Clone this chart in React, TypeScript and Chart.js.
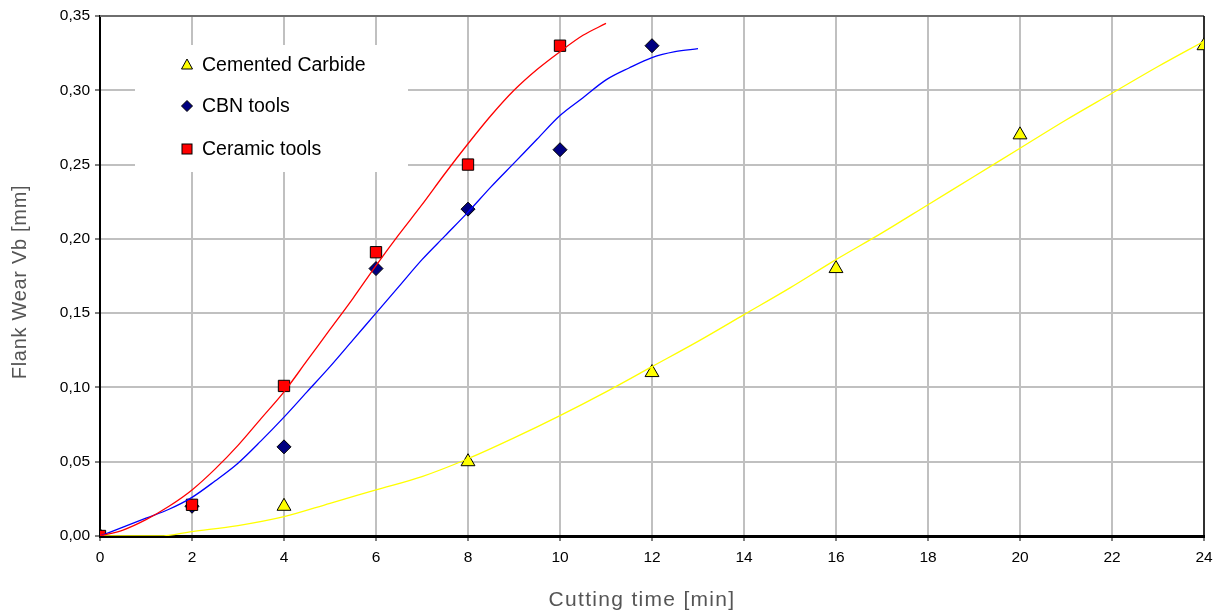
import { useEffect, useRef } from "react";
import { Chart, registerables } from "chart.js";

Chart.register(...registerables);

// Measured points
const carbideTime = [0, 4, 8, 12, 16, 20, 24];
const carbideWear = [0, 0.02, 0.05, 0.11, 0.18, 0.27, 0.33];
const cbnTime = [0, 2, 4, 6, 8, 10, 12];
const cbnWear = [0, 0.02, 0.06, 0.18, 0.22, 0.26, 0.33];
const ceramicTime = [0, 2, 4, 6, 8, 10];
const ceramicWear = [0, 0.021, 0.101, 0.191, 0.25, 0.33];

// Trend curves
const ceramicFitTime = [0, 0.5, 1, 1.5, 2, 2.5, 3, 3.5, 4, 4.5, 5, 5.5, 6, 6.5, 7, 7.5, 8, 8.5, 9, 9.5, 10, 10.5, 11];
const ceramicFitWear = [0, 0.004, 0.011, 0.02, 0.031, 0.045, 0.061, 0.079, 0.097, 0.118, 0.139, 0.16, 0.182, 0.203, 0.223, 0.244, 0.264, 0.283, 0.3, 0.314, 0.326, 0.337, 0.345];
const cbnFitTime = [0, 0.5, 1, 1.5, 2, 2.5, 3, 3.5, 4, 4.5, 5, 5.5, 6, 6.5, 7, 7.5, 8, 8.5, 9, 9.5, 10, 10.5, 11, 11.5, 12, 12.5, 13];
const cbnFitWear = [0, 0.006, 0.012, 0.018, 0.026, 0.037, 0.049, 0.064, 0.08, 0.097, 0.114, 0.132, 0.15, 0.168, 0.186, 0.202, 0.218, 0.235, 0.251, 0.267, 0.283, 0.295, 0.307, 0.315, 0.322, 0.326, 0.328];
const carbideFitTime = [0, 1.3, 2, 3, 4, 5, 6, 7, 8, 9, 10, 11, 12, 13, 14, 15, 16, 17, 18, 19, 20, 21, 22, 23, 24];
const carbideFitWear = [0, 0, 0.003, 0.007, 0.013, 0.022, 0.031, 0.04, 0.052, 0.066, 0.081, 0.097, 0.114, 0.131, 0.149, 0.167, 0.186, 0.204, 0.223, 0.242, 0.261, 0.28, 0.298, 0.316, 0.333];

const legendLabels = ["Cemented Carbide", "CBN tools", "Ceramic tools"];
const xTitle = "Cutting time [min]";
const yTitle = "Flank Wear Vb [mm]";

const zip = (xs: number[], ys: number[]) => xs.map((x, i) => ({ x, y: ys[i] }));

const FONT = "'Liberation Sans', Arial, sans-serif";

const framePlugin = {
  id: "frame",
  beforeDatasetsDraw(chart: any) {
    const { ctx, chartArea } = chart;
    const { left, right, top, bottom } = chartArea;
    ctx.save();
    // top border
    ctx.strokeStyle = "#6e6e6e";
    ctx.lineWidth = 2;
    ctx.beginPath();
    ctx.moveTo(left, top);
    ctx.lineTo(right, top);
    ctx.stroke();
    // right border
    ctx.strokeStyle = "#000";
    ctx.lineWidth = 1.5;
    ctx.beginPath();
    ctx.moveTo(right, top);
    ctx.lineTo(right, bottom);
    ctx.stroke();

    // legend box
    const bx = left + 35;
    const by = top + 29;
    ctx.fillStyle = "#fff";
    ctx.fillRect(bx, by, 273, 127);
    const mx = bx + 52;
    const rows = [by + 20, by + 61, by + 104];
    ctx.lineWidth = 1;
    ctx.strokeStyle = "#000";
    // triangle
    ctx.fillStyle = "#ffff00";
    ctx.beginPath();
    ctx.moveTo(mx, rows[0] - 6);
    ctx.lineTo(mx + 5.5, rows[0] + 4);
    ctx.lineTo(mx - 5.5, rows[0] + 4);
    ctx.closePath();
    ctx.fill();
    ctx.stroke();
    // diamond
    ctx.fillStyle = "#000080";
    ctx.beginPath();
    ctx.moveTo(mx, rows[1] - 5.5);
    ctx.lineTo(mx + 5.5, rows[1]);
    ctx.lineTo(mx, rows[1] + 5.5);
    ctx.lineTo(mx - 5.5, rows[1]);
    ctx.closePath();
    ctx.fill();
    ctx.stroke();
    // square
    ctx.fillStyle = "#ff0000";
    ctx.fillRect(mx - 5, rows[2] - 5, 10, 10);
    ctx.strokeRect(mx - 5, rows[2] - 5, 10, 10);

    ctx.fillStyle = "#000";
    ctx.font = `19.5px ${FONT}`;
    ctx.textBaseline = "middle";
    ctx.textAlign = "left";
    legendLabels.forEach((t, i) => ctx.fillText(t, mx + 15, rows[i] + 1));
    ctx.restore();
  },
  afterDraw(chart: any) {
    const { ctx, chartArea } = chart;
    ctx.save();
    ctx.fillStyle = "#555";
    ctx.textAlign = "center";
    ctx.textBaseline = "middle";
    (ctx as any).letterSpacing = "1.3px";
    ctx.font = `21px ${FONT}`;
    ctx.fillText(xTitle, (chartArea.left + chartArea.right) / 2 - 10, 600);
    (ctx as any).letterSpacing = "0.7px";
    ctx.font = `20px ${FONT}`;
    ctx.translate(20, (chartArea.top + chartArea.bottom) / 2 + 6);
    ctx.rotate(-Math.PI / 2);
    ctx.fillText(yTitle, 0, 0);
    ctx.restore();
  },
};

export default function App() {
  const ref = useRef<HTMLCanvasElement | null>(null);

  useEffect(() => {
    if (!ref.current) return;
    const chart = new Chart(ref.current, {
      type: "scatter",
      data: {
        datasets: [
          {
            label: "Ceramic fit",
            data: zip(ceramicFitTime, ceramicFitWear),
            showLine: true,
            borderColor: "#ff0000",
            borderWidth: 1.3,
            pointRadius: 0,
            cubicInterpolationMode: "monotone",
          },
          {
            label: "CBN fit",
            data: zip(cbnFitTime, cbnFitWear),
            showLine: true,
            borderColor: "#0000ff",
            borderWidth: 1.3,
            pointRadius: 0,
            cubicInterpolationMode: "monotone",
          },
          {
            label: "Carbide fit",
            data: zip(carbideFitTime, carbideFitWear),
            showLine: true,
            borderColor: "#ffff00",
            borderWidth: 1.3,
            pointRadius: 0,
            cubicInterpolationMode: "monotone",
          },
          {
            label: legendLabels[2],
            data: zip(ceramicTime, ceramicWear),
            pointStyle: "rect",
            pointRadius: 8,
            backgroundColor: "#ff0000",
            borderColor: "#000",
            borderWidth: 1,
          },
          {
            label: legendLabels[1],
            data: zip(cbnTime, cbnWear),
            pointStyle: "rectRot",
            pointRadius: 7,
            backgroundColor: "#000080",
            borderColor: "#000",
            borderWidth: 1,
          },
          {
            label: legendLabels[0],
            data: zip(carbideTime, carbideWear),
            pointStyle: "triangle",
            pointRadius: 8,
            backgroundColor: "#ffff00",
            borderColor: "#000",
            borderWidth: 1,
          },
        ],
      },
      options: {
        animation: false,
        responsive: false,
        maintainAspectRatio: false,
        layout: { padding: { top: 16, right: 16, left: 0, bottom: 0 } },
        plugins: {
          legend: { display: false },
          tooltip: { enabled: false },
        },
        scales: {
          x: {
            type: "linear",
            min: 0,
            max: 24,
            afterFit: (s: any) => {
              s.height = 79;
            },
            ticks: {
              stepSize: 2,
              color: "#000",
              font: { family: FONT, size: 15.5 },
              padding: 7,
              maxRotation: 0,
            },
            grid: {
              color: "#c0c0c0",
              lineWidth: 2,
              tickColor: "#000",
              tickWidth: 1,
              tickLength: 5,
            },
            border: { display: true, color: "#000", width: 3 },
            title: { display: false, text: xTitle },
          },
          y: {
            type: "linear",
            min: 0,
            max: 0.35,
            afterFit: (s: any) => {
              s.width = 100;
            },
            ticks: {
              stepSize: 0.05,
              color: "#000",
              font: { family: FONT, size: 15.5 },
              padding: 5,
              callback: (v: any) => Number(v).toFixed(2).replace(".", ","),
            },
            grid: {
              color: "#c0c0c0",
              lineWidth: 2,
              tickColor: "#000",
              tickWidth: 1,
              tickLength: 5,
            },
            border: { display: true, color: "#000", width: 2 },
            title: { display: false, text: yTitle },
          },
        },
      },
      plugins: [framePlugin],
    } as any);
    return () => chart.destroy();
  }, []);

  return (
    <div style={{ position: "fixed", left: 0, top: 0, width: 1220, height: 615, background: "#fff" }}>
      <canvas ref={ref} width={1220} height={615} style={{ display: "block" }} />
    </div>
  );
}
